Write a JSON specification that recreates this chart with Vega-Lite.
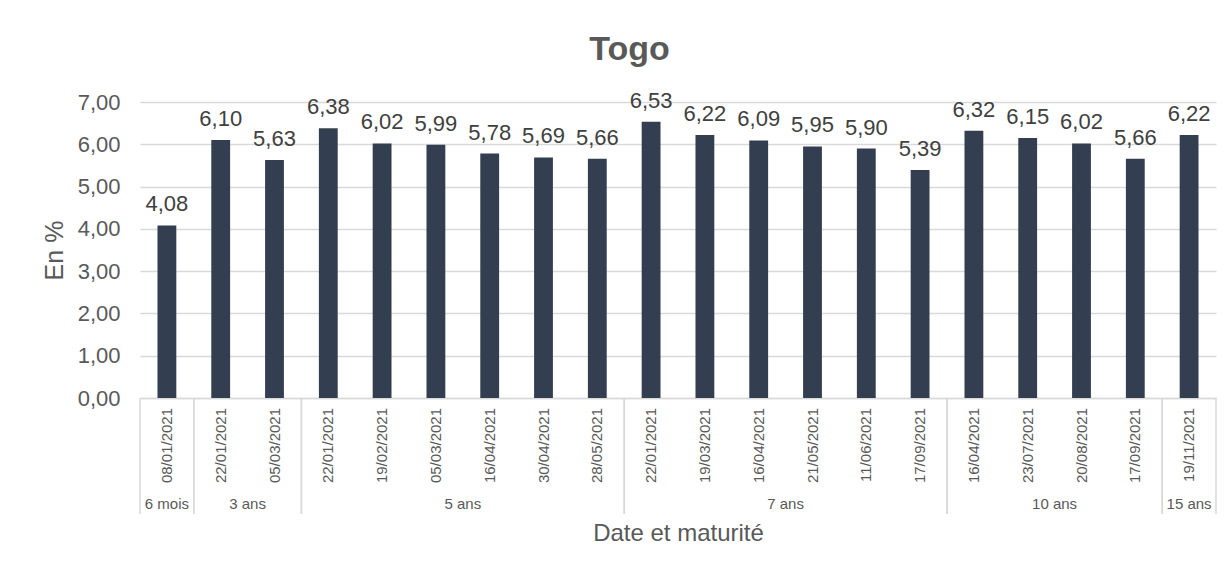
{
  "$schema": "https://vega.github.io/schema/vega-lite/v6.json",
  "background": "#ffffff",
  "padding": {"left": 42, "top": 32, "right": 10, "bottom": 10},
  "config": {
    "locale": {"number": {"decimal": ",", "thousands": "\u00a0", "grouping": [3], "currency": ["", " €"]}},
    "font": "Liberation Sans",
    "view": {"stroke": null}
  },
  "title": {"text": "Togo", "fontSize": 34, "fontWeight": "bold", "color": "#595959", "anchor": "middle", "frame": "bounds", "offset": 23},
  "data": {"values": [
    {"i": 0, "date": "08/01/2021", "maturite": "6 mois", "taux": 4.08},
    {"i": 1, "date": "22/01/2021", "maturite": "3 ans", "taux": 6.10},
    {"i": 2, "date": "05/03/2021", "maturite": "3 ans", "taux": 5.63},
    {"i": 3, "date": "22/01/2021", "maturite": "5 ans", "taux": 6.38},
    {"i": 4, "date": "19/02/2021", "maturite": "5 ans", "taux": 6.02},
    {"i": 5, "date": "05/03/2021", "maturite": "5 ans", "taux": 5.99},
    {"i": 6, "date": "16/04/2021", "maturite": "5 ans", "taux": 5.78},
    {"i": 7, "date": "30/04/2021", "maturite": "5 ans", "taux": 5.69},
    {"i": 8, "date": "28/05/2021", "maturite": "5 ans", "taux": 5.66},
    {"i": 9, "date": "22/01/2021", "maturite": "7 ans", "taux": 6.53},
    {"i": 10, "date": "19/03/2021", "maturite": "7 ans", "taux": 6.22},
    {"i": 11, "date": "16/04/2021", "maturite": "7 ans", "taux": 6.09},
    {"i": 12, "date": "21/05/2021", "maturite": "7 ans", "taux": 5.95},
    {"i": 13, "date": "11/06/2021", "maturite": "7 ans", "taux": 5.90},
    {"i": 14, "date": "17/09/2021", "maturite": "7 ans", "taux": 5.39},
    {"i": 15, "date": "16/04/2021", "maturite": "10 ans", "taux": 6.32},
    {"i": 16, "date": "23/07/2021", "maturite": "10 ans", "taux": 6.15},
    {"i": 17, "date": "20/08/2021", "maturite": "10 ans", "taux": 6.02},
    {"i": 18, "date": "17/09/2021", "maturite": "10 ans", "taux": 5.66},
    {"i": 19, "date": "19/11/2021", "maturite": "15 ans", "taux": 6.22}
  ]},
  "spacing": 0,
  "bounds": "flush",
  "resolve": {"scale": {"x": "independent"}},
  "vconcat": [
    {
      "width": 1076,
      "height": 296,
      "encoding": {
        "x": {"field": "i", "type": "ordinal", "scale": {"paddingInner": 0.65, "paddingOuter": 0.325},
              "axis": {"labels": false, "ticks": false, "domain": true, "domainColor": "#d9d9d9", "domainWidth": 1.5, "title": null, "grid": false, "labelPadding": 0, "minExtent": 0, "maxExtent": 0, "offset": 0}},
        "y": {"field": "taux", "type": "quantitative", "scale": {"domain": [0, 7]},
              "axis": {"values": [0, 1, 2, 3, 4, 5, 6, 7], "format": ".2f", "grid": true, "gridColor": "#d9d9d9", "gridWidth": 1.5, "domain": false, "ticks": false,
                       "labelFontSize": 22, "labelColor": "#595959", "labelPadding": 20,
                       "title": "En %", "titleFontSize": 25, "titleFontWeight": "normal", "titleColor": "#595959", "titlePadding": 10}}
      },
      "layer": [
        {"mark": {"type": "bar", "color": "#333F50"}},
        {"mark": {"type": "text", "baseline": "alphabetic", "dy": -14, "fontSize": 22, "color": "#404040"},
         "encoding": {"text": {"field": "taux", "type": "quantitative", "format": ".2f"}}}
      ]
    },
    {
      "width": 1076,
      "height": 116,
      "transform": [
        {"joinaggregate": [{"op": "min", "field": "i", "as": "first"}, {"op": "max", "field": "i", "as": "last"}], "groupby": ["maturite"]}
      ],
      "resolve": {"scale": {"x": "independent"}},
      "layer": [
        {
          "layer": [
            {"mark": {"type": "text", "angle": 270, "align": "right", "baseline": "middle", "fontSize": 15, "color": "#595959"},
             "encoding": {
               "x": {"field": "i", "type": "ordinal", "scale": {"paddingInner": 0, "paddingOuter": 0}, "axis": null},
               "y": {"datum": "dates", "type": "ordinal", "scale": {"type": "point", "domain": ["dates", "groupes"], "padding": 0.104}, "axis": null},
               "text": {"field": "date"}
             }},
            {"mark": {"type": "rule", "color": "#d9d9d9", "strokeWidth": 1.5},
             "encoding": {
               "x": {"field": "i", "type": "ordinal", "bandPosition": 0, "axis": null},
               "opacity": {"condition": {"test": "datum.i == datum.first", "value": 1}, "value": 0}
             }},
            {"mark": {"type": "rule", "color": "#d9d9d9", "strokeWidth": 1.5},
             "encoding": {
               "x": {"field": "i", "type": "ordinal", "bandPosition": 1, "axis": null},
               "opacity": {"condition": {"test": "datum.i == datum.last", "value": 1}, "value": 0}
             }}
          ]
        },
        {"mark": {"type": "text", "baseline": "middle", "fontSize": 15, "color": "#595959"},
         "encoding": {
           "x": {"aggregate": "mean", "field": "i", "type": "quantitative", "scale": {"domain": [-0.5, 19.5], "nice": false, "zero": false},
                 "axis": {"labels": false, "ticks": false, "domain": false, "grid": false, "title": "Date et maturité", "titleFontSize": 24, "titleFontWeight": "normal", "titleColor": "#595959", "titlePadding": 7}},
           "y": {"datum": "groupes", "type": "ordinal"},
           "text": {"field": "maturite"}
         }}
      ]
    }
  ]
}
